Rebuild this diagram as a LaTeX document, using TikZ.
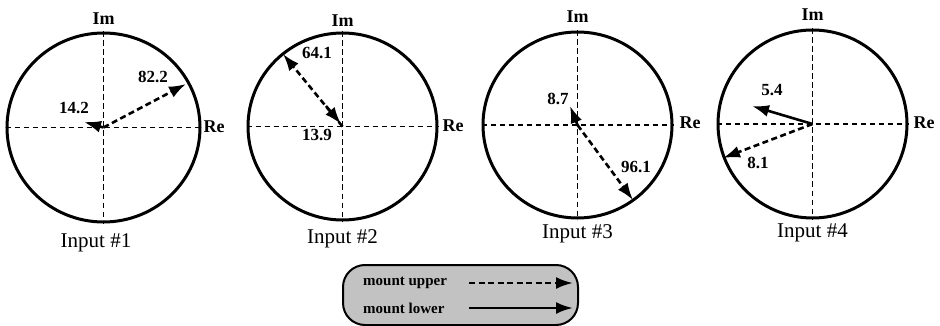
\documentclass[tikz,border=0pt]{standalone}
\usepackage{fontspec}
\setmainfont{Liberation Serif}
\usetikzlibrary{shapes.geometric,arrows.meta}
\begin{document}
\begin{tikzpicture}[x=1pt,y=-1pt,
  rim/.style={draw, ellipse, line width=3pt, inner sep=0pt},
  axis/.style={line width=1.6pt, dash pattern=on 5.5pt off 3.5pt},
  vecup/.style={line width=2.6pt, dash pattern=on 6pt off 3.5pt, -{Latex[length=17pt,width=12pt]}},
  veclo/.style={line width=2.6pt, -{Latex[length=17pt,width=12pt]}},
  val/.style={font=\fontsize{17}{19}\selectfont\bfseries, inner sep=0pt},
  axl/.style={font=\fontsize{18}{20}\selectfont\bfseries, inner sep=0pt},
  captxt/.style={font=\fontsize{21}{23}\selectfont, inner sep=0pt},
  leg/.style={font=\fontsize{15}{17}\selectfont\bfseries, inner sep=0pt, anchor=west},
  legbox/.style={draw, line width=2pt, fill=black!24, rounded corners=22pt, minimum width=235pt, minimum height=60pt}
]
\useasboundingbox (0,0) rectangle (940,326);

% ---------- circle 1
\node[rim, minimum width=193pt, minimum height=189pt] (c1) at (103.5,127.5) {};
\draw[axis] (c1.west) -- (c1.east);
\draw[axis] (c1.north) -- (c1.south);
\coordinate (t1a) at (186,84);
\coordinate (t1b) at (84,122);
\draw[vecup] (c1.center) -- (t1a);
\draw[vecup] (c1.center) -- (t1b);
\node[val] (l1a) at (153,77) {82.2};
\node[val] (l1b) at (74,108) {14.2};
\node[axl] (im1) at (103.5,19) {Im};
\node[axl] (re1) at (214,127) {Re};
\node[captxt] (in1) at (96,243) {Input \#1};

% ---------- circle 2
\node[rim, minimum width=189pt, minimum height=187pt] (c2) at (342.5,126.5) {};
\draw[axis] (c2.west) -- (c2.east);
\draw[axis] (c2.north) -- (c2.south);
\coordinate (t2a) at (283,54);
\coordinate (s2b) at (326,106);
\coordinate (t2b) at (341,124);
\draw[vecup] (c2.center) -- (t2a);
\draw[vecup] (s2b) -- (t2b);
\node[val] (l2a) at (317,53) {64.1};
\node[val] (l2b) at (317,135) {13.9};
\node[axl] (im2) at (342.5,21) {Im};
\node[axl] (re2) at (453,126) {Re};
\node[captxt] (in2) at (342.5,239) {Input \#2};

% ---------- circle 3
\node[rim, minimum width=189pt, minimum height=186pt] (c3) at (577.5,125) {};
\draw[axis] (c3.west) -- (c3.east);
\draw[axis] (c3.north) -- (c3.south);
\coordinate (t3a) at (633,200);
\coordinate (t3b) at (570,106);
\draw[vecup] (c3.center) -- (t3a);
\draw[vecup] (c3.center) -- (t3b);
\node[val] (l3a) at (636,167) {96.1};
\node[val] (l3b) at (558,99) {8.7};
\node[axl] (im3) at (577.5,17) {Im};
\node[axl] (re3) at (690,123) {Re};
\node[captxt] (in3) at (577.5,234) {Input \#3};

% ---------- circle 4
\node[rim, minimum width=189pt, minimum height=188pt] (c4) at (812.5,124) {};
\draw[axis] (c4.west) -- (c4.east);
\draw[axis] (c4.north) -- (c4.south);
\coordinate (t4a) at (752,106);
\coordinate (t4b) at (723,158);
\draw[veclo] (c4.center) -- (t4a);
\draw[vecup] (c4.center) -- (t4b);
\node[val] (l4a) at (772,90) {5.4};
\node[val] (l4b) at (758,163) {8.1};
\node[axl] (im4) at (812.5,15) {Im};
\node[axl] (re4) at (924,123) {Re};
\node[captxt] (in4) at (812.5,233) {Input \#4};

% ---------- legend
\node[legbox] (lg) at (460.5,295) {};
\node[leg] (mu) at (363,283) {mount upper};
\node[leg] (ml) at (363,308) {mount lower};
\coordinate (mua) at (469,283);
\coordinate (mub) at (573,283);
\coordinate (mla) at (469,308);
\coordinate (mlb) at (573,308);
\draw[vecup] (mua) -- (mub);
\draw[veclo] (mla) -- (mlb);
\end{tikzpicture}
\end{document}
